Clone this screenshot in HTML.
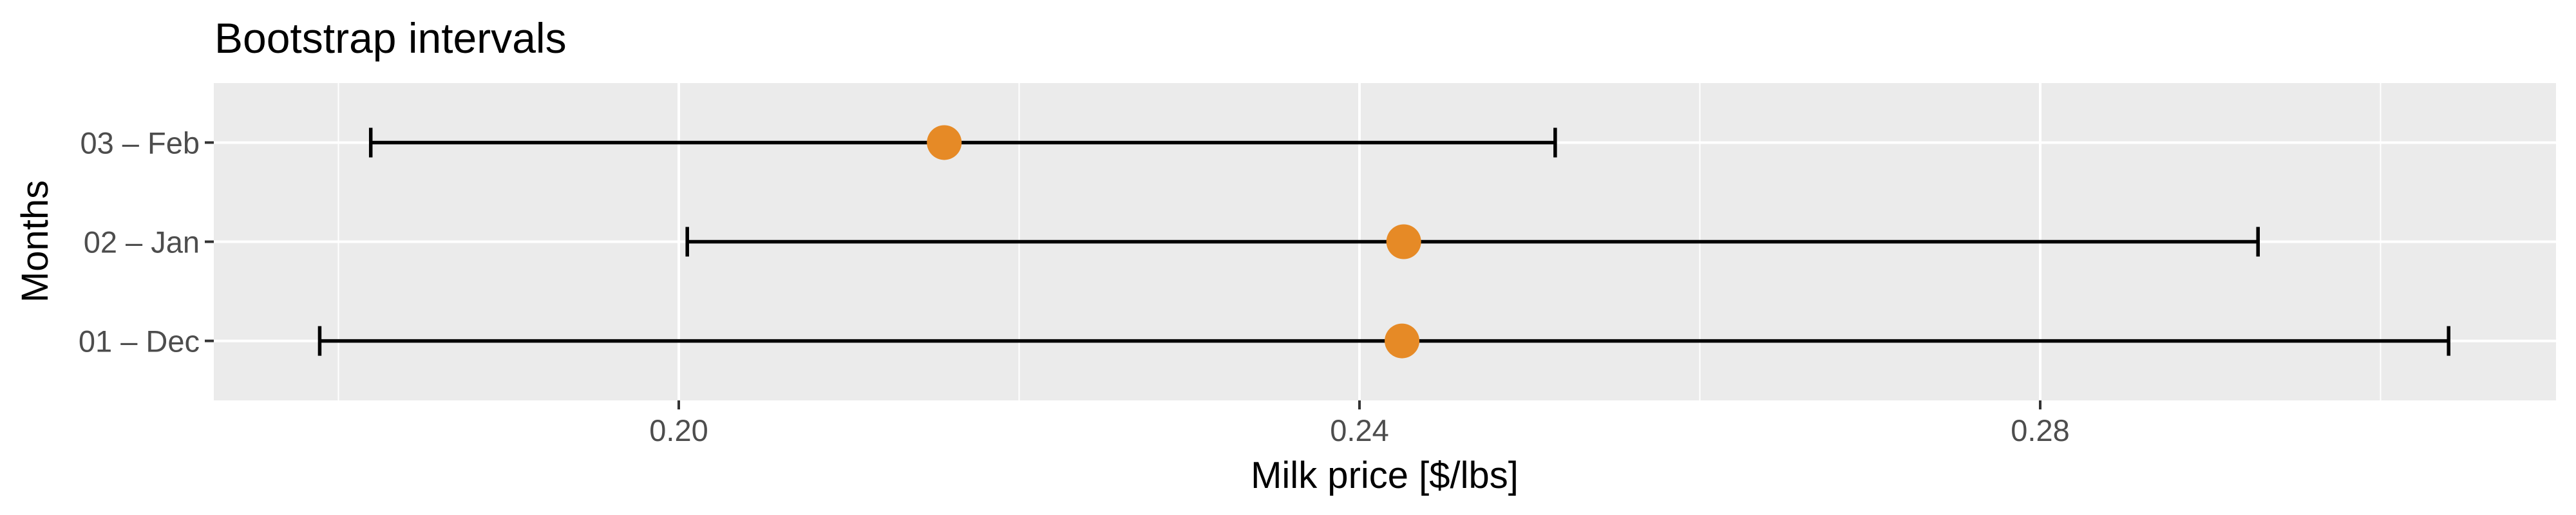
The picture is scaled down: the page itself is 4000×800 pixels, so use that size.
<!DOCTYPE html>
<html><head><meta charset="utf-8"><style>
html,body{margin:0;padding:0;background:#fff;}
svg{display:block;font-family:"Liberation Sans",Arial,sans-serif;}
</style></head><body>
<svg id="chart" width="4000" height="800" viewBox="0 0 4000 800" xmlns="http://www.w3.org/2000/svg">
<text x="333" y="82" font-size="66" fill="#000">Bootstrap intervals</text>
<rect x="332" y="129" width="3637" height="493" fill="#ebebeb"/>
<g id="grid"></g>
<g id="marks"></g>
<g id="axes"></g>
<text x="2150" y="758" font-size="58" text-anchor="middle" fill="#000">Milk price [$/lbs]</text>
<text transform="translate(74,375) rotate(-90)" font-size="58" text-anchor="middle" fill="#000">Months</text>
</svg>
<script>
const categories = ["01 – Dec", "02 – Jan", "03 – Feb"];
const lowerValues = [0.1789, 0.2005, 0.1819];
const upperValues = [0.3040, 0.2928, 0.2515];
const pointValues = [0.2425, 0.2426, 0.2156];
const majorTicks = [0.20, 0.24, 0.28];
const tickLabels = ["0.20", "0.24", "0.28"];
const minorTicks = [0.18, 0.22, 0.26, 0.30];

const NS = "http://www.w3.org/2000/svg";
const PL = 332, PR = 3969, PT = 129, PB = 622;
function xScale(v){ return 1054 + (v - 0.20) * 26425; }
function yScale(i){ const unit = (PB - PT) / (categories.length - 1 + 1.2); return PB - (0.6 + i) * unit; }
function mk(tag, attrs, parent){ const e = document.createElementNS(NS, tag); for (const k in attrs) e.setAttribute(k, attrs[k]); parent.appendChild(e); return e; }
const grid = document.getElementById('grid'), marks = document.getElementById('marks'), axes = document.getElementById('axes');

minorTicks.forEach(v => { const x = xScale(v); if (x < PL || x > PR) return;
  const l = mk('line', {x1:x, x2:x, y1:PT, y2:PB, stroke:'#fff', 'stroke-width':2}, grid);
  
  
});
majorTicks.forEach((v, i) => { const x = xScale(v);
  const l = mk('line', {x1:x, x2:x, y1:PT, y2:PB, stroke:'#fff', 'stroke-width':4}, grid);
  
  
  const t = mk('line', {x1:x, x2:x, y1:PB, y2:PB+14, stroke:'#333', 'stroke-width':4}, axes);
  
  
  const tx = mk('text', {x:x, y:685, 'font-size':47, 'text-anchor':'middle', fill:'#4d4d4d'}, axes);
  tx.textContent = tickLabels[i];
  
  
});
categories.forEach((c, i) => { const y = yScale(i);
  const g = mk('line', {x1:PL, x2:PR, y1:y, y2:y, stroke:'#fff', 'stroke-width':4}, grid);
  
  
  const t = mk('line', {x1:PL-14, x2:PL, y1:y, y2:y, stroke:'#333', 'stroke-width':4}, axes);
  
  
  const tx = mk('text', {x:PL-22, y:y+17, 'font-size':47, 'text-anchor':'end', fill:'#4d4d4d'}, axes);
  tx.textContent = c;
  
  
  const x1 = xScale(lowerValues[i]), x2 = xScale(upperValues[i]);
  const bar = mk('path', {d:`M${x1},${y-23}V${y+23}M${x1},${y}H${x2}M${x2},${y-23}V${y+23}`, stroke:'#000', 'stroke-width':5.5, fill:'none'}, marks);
  
  
  const p = mk('circle', {cx:xScale(pointValues[i]), cy:y, r:27, fill:'#e68a26'}, marks);
  
  
});
</script>
</body></html>
